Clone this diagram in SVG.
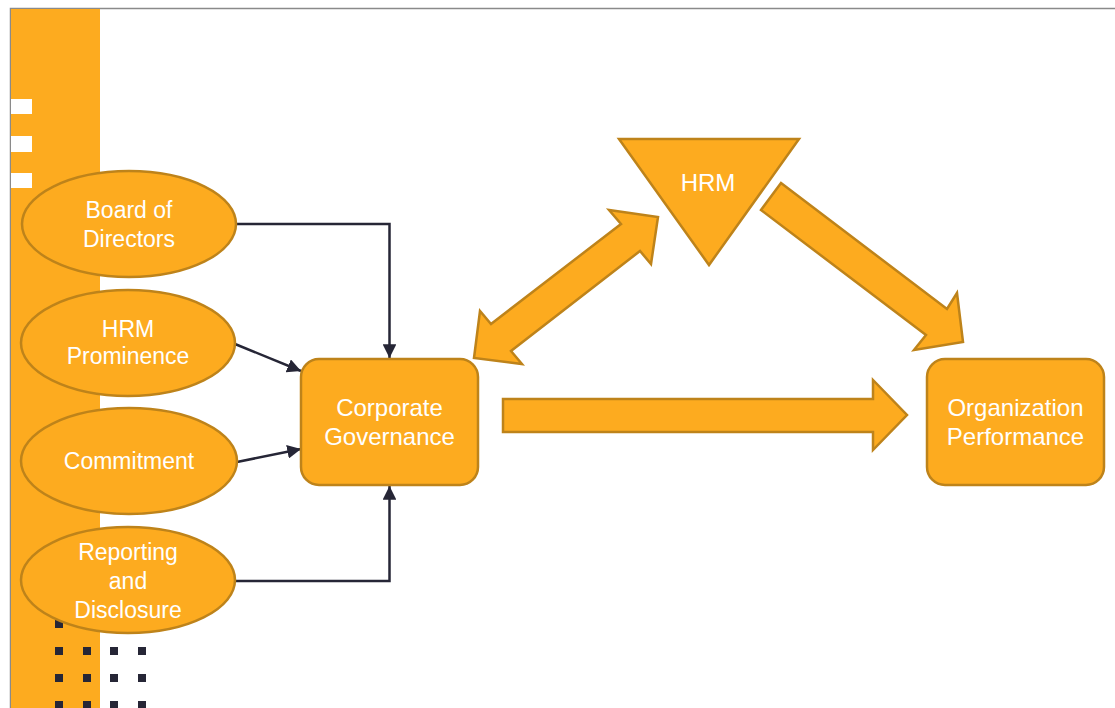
<svg xmlns="http://www.w3.org/2000/svg" width="1115" height="708" viewBox="0 0 1115 708">
  <style>
    .shape { fill: #FDAB1F; stroke: #BE831A; stroke-width: 2.5; }
    .label { fill: #FFFFFF; font-family: "Liberation Sans", Arial, sans-serif; text-anchor: middle; }
    .small { font-size: 23px; }
    .big { font-size: 24px; }
    .link { fill: none; stroke: #262636; stroke-width: 2.5; }
    .dot { fill: #262636; }
  </style>
  <defs>
    <marker id="head" viewBox="0 0 10 10" refX="10" refY="5" markerWidth="5.5" markerHeight="5.5" markerUnits="strokeWidth" orient="auto">
      <path d="M0,0 L10,5 L0,10 Z" fill="#262636"/>
    </marker>
  </defs>

  <!-- page background and frame -->
  <rect x="0" y="0" width="1115" height="708" fill="#FFFFFF"/>
  <path d="M10.5,708 V8.5 H1115" fill="none" stroke="#8A8A8A" stroke-width="1.5"/>

  <!-- side band with decorative marks -->
  <g id="decor">
    <rect x="11" y="9" width="89" height="699" fill="#FDAB1F"/>
    <rect x="11" y="99" width="21" height="15" fill="#FFFFFF"/>
    <rect x="11" y="136" width="21" height="16" fill="#FFFFFF"/>
    <rect x="11" y="173" width="21" height="15" fill="#FFFFFF"/>
    <g class="dot">
      <rect x="55" y="620" width="8" height="8"/><rect x="83" y="620" width="8" height="8"/><rect x="110" y="620" width="8" height="8"/><rect x="138" y="620" width="8" height="8"/>
      <rect x="55" y="647" width="8" height="8"/><rect x="83" y="647" width="8" height="8"/><rect x="110" y="647" width="8" height="8"/><rect x="138" y="647" width="8" height="8"/>
      <rect x="55" y="674" width="8" height="8"/><rect x="83" y="674" width="8" height="8"/><rect x="110" y="674" width="8" height="8"/><rect x="138" y="674" width="8" height="8"/>
      <rect x="55" y="701" width="8" height="8"/><rect x="83" y="701" width="8" height="8"/><rect x="110" y="701" width="8" height="8"/><rect x="138" y="701" width="8" height="8"/>
    </g>
  </g>

  <!-- connectors -->
  <g id="connectors">
    <path class="link" d="M236,224 H389.5 V358" marker-end="url(#head)"/>
    <path class="link" d="M235,344 L301,371" marker-end="url(#head)"/>
    <path class="link" d="M237,462 L301,449" marker-end="url(#head)"/>
    <path class="link" d="M236,581 H389.5 V486" marker-end="url(#head)"/>
    <!-- block arrows -->
    <polygon class="shape" points="658,217 651,264 640,251 511,351 522,364 474,358 480,311 491,324 621,224 609,210"/>
    <polygon class="shape" points="781,183 947,309 957,293 963,342 914,350 926,335 761,210"/>
    <polygon class="shape" points="503,399 873,399 873,380 907,415 873,450 873,432 503,432"/>
  </g>

  <!-- input nodes -->
  <g id="board">
    <ellipse class="shape" cx="129" cy="224" rx="107" ry="53"/>
    <text class="label small" x="129" y="218">Board of</text>
    <text class="label small" x="129" y="247">Directors</text>
  </g>
  <g id="hrm-prominence">
    <ellipse class="shape" cx="128" cy="343" rx="107" ry="53"/>
    <text class="label small" x="128" y="337">HRM</text>
    <text class="label small" x="128" y="364">Prominence</text>
  </g>
  <g id="commitment">
    <ellipse class="shape" cx="129" cy="461" rx="108" ry="53"/>
    <text class="label small" x="129" y="469">Commitment</text>
  </g>
  <g id="reporting">
    <ellipse class="shape" cx="128" cy="580" rx="107" ry="53"/>
    <text class="label small" x="128" y="560">Reporting</text>
    <text class="label small" x="128" y="589">and</text>
    <text class="label small" x="128" y="618">Disclosure</text>
  </g>

  <!-- central and outcome nodes -->
  <g id="corporate-governance">
    <rect class="shape" x="301" y="359" width="177" height="126" rx="18"/>
    <text class="label big" x="389.5" y="416">Corporate</text>
    <text class="label big" x="389.5" y="445">Governance</text>
  </g>
  <g id="hrm">
    <polygon class="shape" points="619,139 799,139 709,265"/>
    <text class="label big" x="708" y="191">HRM</text>
  </g>
  <g id="organization-performance">
    <rect class="shape" x="927" y="359" width="177" height="126" rx="18"/>
    <text class="label big" x="1015.5" y="416">Organization</text>
    <text class="label big" x="1015.5" y="445">Performance</text>
  </g>
</svg>
